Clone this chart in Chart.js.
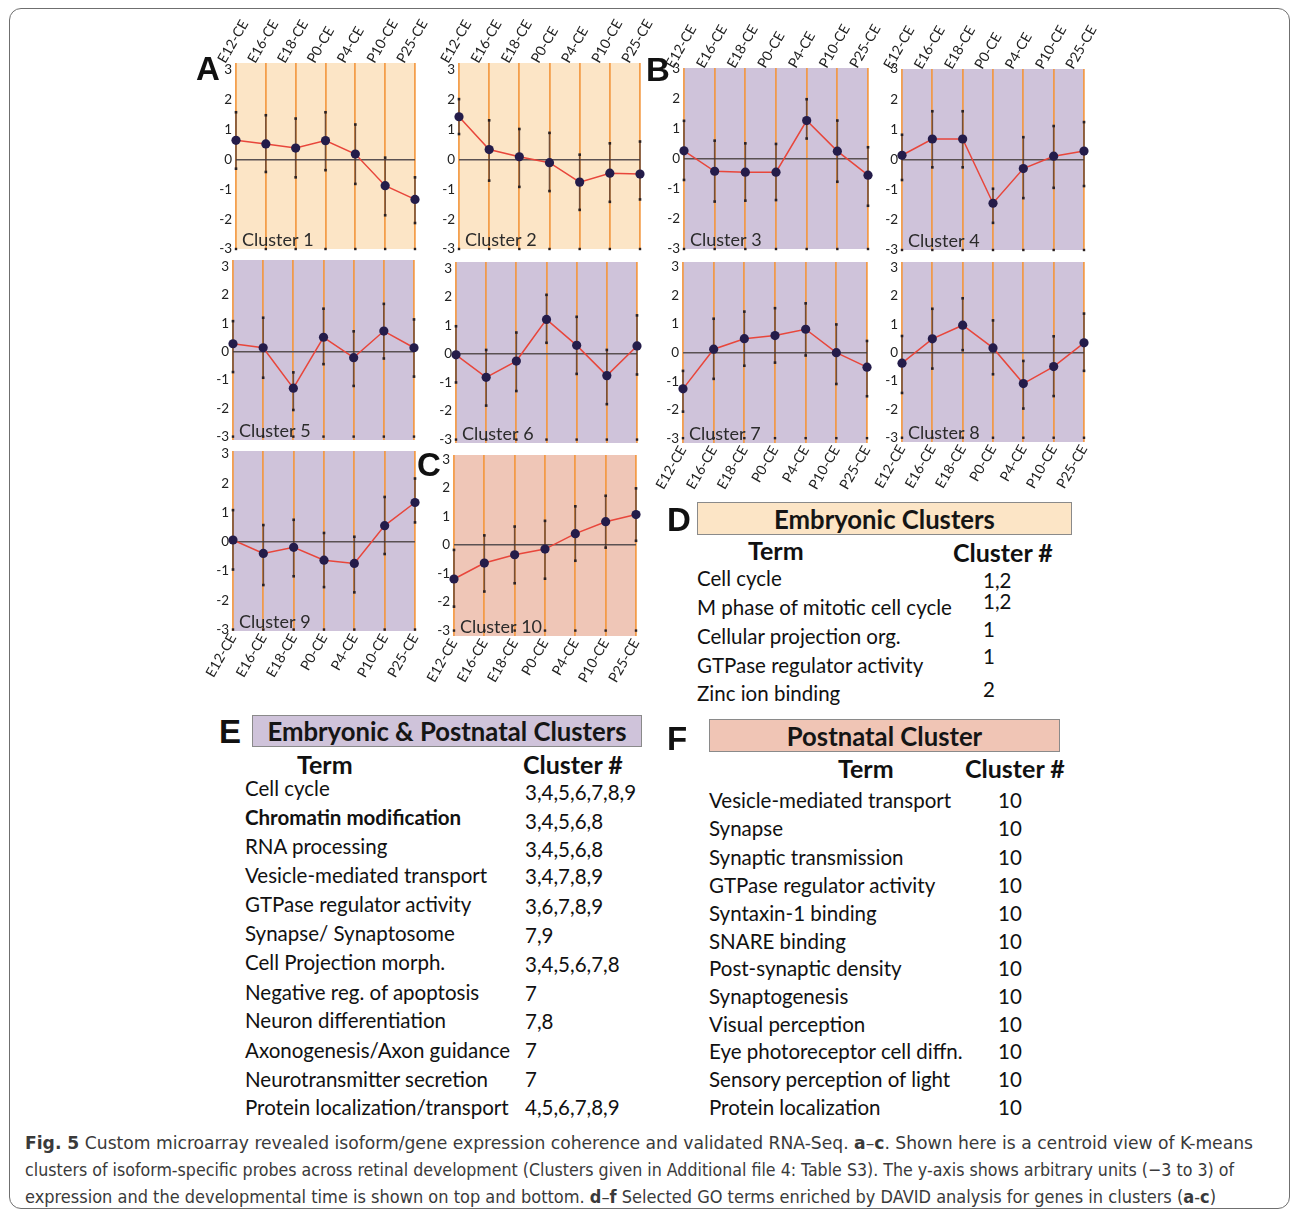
<!DOCTYPE html>
<html><head><meta charset="utf-8">
<script src="https://cdn.jsdelivr.net/npm/chart.js@4/dist/chart.umd.min.js"></script>
<style>
body{margin:0;background:#fff;}
#page{position:relative;width:1292px;height:1215px;overflow:hidden;font-family:Lato,'Open Sans',sans-serif;color:#111;}
.frame{position:absolute;left:9px;top:8px;width:1281px;height:1201px;border:1.3px solid #6f6f6f;border-radius:12px;box-sizing:border-box;}
canvas{position:absolute;}
.t{position:absolute;white-space:nowrap;line-height:1;transform:translateY(-50%);font-size:20.5px;}
.b{font-weight:bold;}
.h{font-weight:bold;font-size:25px;}
.letter{position:absolute;font-family:'Liberation Sans',Arial,sans-serif;font-weight:bold;font-size:33px;line-height:1;color:#111;transform:translateY(-50%);}
.box{position:absolute;border:1px solid #8a8a8a;box-sizing:border-box;display:flex;align-items:center;justify-content:center;font-weight:bold;font-size:25.7px;color:#151515;}
.cap{position:absolute;left:25px;white-space:nowrap;font-family:'Liberation Sans Narrow','DejaVu Sans Condensed',sans-serif;font-size:18px;line-height:1;color:#3a3a3a;transform-origin:left center;}
</style></head>
<body><div id="page"><div class="frame"></div></div>
<script>
// ---------------- DATA ----------------
const timepoints = ['E12-CE','E16-CE','E18-CE','P0-CE','P4-CE','P10-CE','P25-CE'];
const yTickValues = [-3,-2,-1,0,1,2,3];

const c1Mean  = [0.64,0.52,0.38,0.63,0.18,-0.88,-1.34];
const c1Upper = [1.58,1.48,1.37,1.58,1.17,0.06,-0.60];
const c1Lower = [-0.31,-0.42,-0.60,-0.36,-0.82,-1.87,-2.13];

const c2Mean  = [1.43,0.33,0.09,-0.11,-0.76,-0.46,-0.49];
const c2Upper = [2.02,1.31,1.02,0.89,0.16,0.54,0.60];
const c2Lower = [0.85,-0.71,-0.92,-1.06,-1.69,-1.42,-1.34];

const c3Mean  = [0.27,-0.41,-0.44,-0.44,1.28,0.26,-0.54];
const c3Upper = [1.27,0.61,0.52,0.50,1.99,1.28,0.39];
const c3Lower = [-0.70,-1.42,-1.39,-1.37,0.68,-0.76,-1.56];

const c4Mean  = [0.14,0.68,0.68,-1.45,-0.30,0.11,0.28];
const c4Upper = [0.82,1.60,1.60,-0.97,0.74,1.11,1.24];
const c4Lower = [-0.68,-0.26,-0.26,-2.10,-1.28,-0.94,-0.88];

const c5Mean  = [0.28,0.14,-1.29,0.51,-0.21,0.73,0.14];
const c5Upper = [1.08,1.20,-0.73,1.52,0.72,1.69,1.14];
const c5Lower = [-0.72,-0.92,-2.06,-0.44,-1.21,-0.24,-0.88];

const c6Mean  = [-0.03,-0.82,-0.25,1.21,0.30,-0.76,0.28];
const c6Upper = [0.97,0.14,0.75,2.07,1.30,0.14,1.35];
const c6Lower = [-1.00,-1.81,-1.30,0.39,-0.70,-1.76,-0.72];

const c7Mean  = [-1.27,0.12,0.49,0.60,0.82,0.00,-0.51];
const c7Upper = [-0.64,1.19,1.44,1.56,1.73,0.99,0.41];
const c7Lower = [-2.07,-0.92,-0.46,-0.35,-0.10,-1.10,-1.53];

const c8Mean  = [-0.37,0.49,0.97,0.17,-1.09,-0.49,0.35];
const c8Upper = [0.59,1.55,1.92,1.14,-0.29,0.58,1.38];
const c8Lower = [-1.42,-0.56,0.09,-0.76,-1.97,-1.53,-0.64];

const c9Mean  = [0.06,-0.40,-0.19,-0.63,-0.74,0.55,1.34];
const c9Upper = [1.08,0.57,0.75,0.30,0.17,1.53,2.16];
const c9Lower = [-0.95,-1.48,-1.18,-1.55,-1.73,-0.42,0.66];

const c10Mean  = [-1.19,-0.63,-0.34,-0.14,0.40,0.82,1.07];
const c10Upper = [-0.17,0.34,0.65,0.85,1.36,1.73,1.99];
const c10Lower = [-2.16,-1.63,-1.34,-1.18,-0.55,-0.09,0.15];

const embTerms = ['Cell cycle','M phase of mitotic cell cycle','Cellular projection org.','GTPase regulator activity','Zinc ion binding'];
const embClusters = ['1,2','1,2','1','1','2'];

const bothTerms = ['Cell cycle','Chromatin modification','RNA processing','Vesicle-mediated transport','GTPase regulator activity','Synapse/ Synaptosome','Cell Projection morph.','Negative reg. of apoptosis','Neuron differentiation','Axonogenesis/Axon guidance','Neurotransmitter secretion','Protein localization/transport'];
const bothClusters = ['3,4,5,6,7,8,9','3,4,5,6,8','3,4,5,6,8','3,4,7,8,9','3,6,7,8,9','7,9','3,4,5,6,7,8','7','7,8','7','7','4,5,6,7,8,9'];

const postTerms = ['Vesicle-mediated transport','Synapse','Synaptic transmission','GTPase regulator activity','Syntaxin-1 binding','SNARE binding','Post-synaptic density','Synaptogenesis','Visual perception','Eye photoreceptor cell diffn.','Sensory perception of light','Protein localization'];
const postClusters = ['10','10','10','10','10','10','10','10','10','10','10','10'];

// ---------------- LAYOUT / STYLE ----------------
const PEACH = '#FCE5C6', PURPLE = '#CFC3DA', SALMON = '#EFC6B7';
const panels = [
  {name:'Cluster 1', mean:c1Mean, upper:c1Upper, lower:c1Lower, bg:PEACH, l:236,t:63,r:415,b:249, min:-3, max:3.23, axis:'top'},
  {name:'Cluster 2', mean:c2Mean, upper:c2Upper, lower:c2Lower, bg:PEACH, l:459,t:63,r:640,b:249, min:-3, max:3.23, axis:'top'},
  {name:'Cluster 3', mean:c3Mean, upper:c3Upper, lower:c3Lower, bg:PURPLE, l:684,t:68,r:868,b:249, min:-3, max:3.03, axis:'top'},
  {name:'Cluster 4', mean:c4Mean, upper:c4Upper, lower:c4Lower, bg:PURPLE, l:902,t:69,r:1084,b:250, min:-3, max:3.0, axis:'top'},
  {name:'Cluster 5', mean:c5Mean, upper:c5Upper, lower:c5Lower, bg:PURPLE, l:233,t:260,r:414,b:440, min:-3.12, max:3.24, axis:'none'},
  {name:'Cluster 6', mean:c6Mean, upper:c6Upper, lower:c6Lower, bg:PURPLE, l:456,t:262,r:637,b:443, min:-3.12, max:3.22, axis:'none'},
  {name:'Cluster 7', mean:c7Mean, upper:c7Upper, lower:c7Lower, bg:PURPLE, l:683,t:262,r:867,b:443, min:-3.17, max:3.18, axis:'bottom'},
  {name:'Cluster 8', mean:c8Mean, upper:c8Upper, lower:c8Lower, bg:PURPLE, l:902,t:262,r:1084,b:442, min:-3.15, max:3.2, axis:'bottom'},
  {name:'Cluster 9', mean:c9Mean, upper:c9Upper, lower:c9Lower, bg:PURPLE, l:233,t:451,r:415,b:631, min:-3.05, max:3.1, axis:'bottom'},
  {name:'Cluster 10', mean:c10Mean, upper:c10Upper, lower:c10Lower, bg:SALMON, l:454,t:455,r:636,b:636, min:-3.19, max:3.16, axis:'bottom'}
];

const page = document.getElementById('page');
Chart.defaults.font.family = "Lato, 'Open Sans', sans-serif";
Chart.defaults.color = '#222';

function makePanel(p){
  const yW = 26, padL = 4, padR = 40, padT = 4, padB = 4, axH = 52;
  const topH = p.axis === 'top' ? axH : 0;
  const botH = p.axis === 'bottom' ? axH : 0;
  const w = p.r - p.l, h = p.b - p.t;
  const cv = document.createElement('canvas');
  const cw = padL + yW + w + padR, ch = padT + topH + h + botH + padB;
  cv.width = cw; cv.height = ch;
  cv.style.left = (p.l - yW - padL) + 'px';
  cv.style.top = (p.t - topH - padT) + 'px';
  cv.style.width = cw + 'px'; cv.style.height = ch + 'px';
  page.appendChild(cv);

  const panelPlugin = {
    id: 'panel',
    beforeDraw(chart){
      const a = chart.chartArea, c = chart.ctx;
      c.save(); c.fillStyle = p.bg; c.fillRect(a.left, a.top, a.right - a.left, a.bottom - a.top); c.restore();
    },
    beforeDatasetsDraw(chart){
      const c = chart.ctx, xs = chart.scales.x, ys = chart.scales.y;
      c.save();
      c.strokeStyle = 'rgba(70,48,45,0.72)'; c.lineWidth = 1.6;
      c.fillStyle = '#2a2020';
      for (let i = 0; i < p.mean.length; i++){
        const x = xs.getPixelForValue(i);
        const y1 = ys.getPixelForValue(p.upper[i]);
        const y2 = ys.getPixelForValue(p.lower[i]);
        c.beginPath(); c.moveTo(x, y1); c.lineTo(x, y2); c.stroke();
        c.fillRect(x - 1.3, y1 - 1.3, 2.6, 2.6);
        c.fillRect(x - 1.3, y2 - 1.3, 2.6, 2.6);
        const yb = ys.getPixelForValue(-3);
        c.fillRect(x - 1.2, yb - 1.2, 2.4, 2.4);
      }
      c.restore();
    },
    afterDraw(chart){
      const a = chart.chartArea, c = chart.ctx;
      c.save();
      c.font = "18px Lato, 'Open Sans', sans-serif";
      c.fillStyle = '#2b2b2b'; c.textBaseline = 'alphabetic'; c.textAlign = 'left';
      c.fillText(p.name, a.left + 6, a.bottom - 3);
      c.restore();
    }
  };

  new Chart(cv, {
    type: 'line',
    data: {
      labels: timepoints,
      datasets: [{
        data: p.mean,
        borderColor: '#E8463B', borderWidth: 1.5, tension: 0,
        pointRadius: 4.6, pointBackgroundColor: '#241C4A', pointBorderColor: '#241C4A', pointBorderWidth: 0,
        clip: false
      }]
    },
    options: {
      responsive: false, animation: false, devicePixelRatio: 1,
      layout: {padding: {left: padL, right: padR, top: padT, bottom: padB}, autoPadding: false},
      plugins: {legend: {display: false}, tooltip: {enabled: false}},
      scales: {
        x: {
          position: p.axis === 'bottom' ? 'bottom' : 'top',
          offset: false,
          grid: {color: 'rgba(243,150,60,0.9)', lineWidth: 1.8, drawTicks: false, z: -1},
          border: {display: false},
          ticks: {display: p.axis !== 'none', autoSkip: false, minRotation: 60, maxRotation: 60,
                  padding: p.axis === 'top' ? -3 : 0, font: {size: 14}, color: '#222'},
          afterFit(s){ s.height = (p.axis === 'none') ? 0 : axH; s.paddingLeft = 0; s.paddingRight = 0; }
        },
        y: {
          min: p.min, max: p.max,
          afterBuildTicks(s){ s.ticks = yTickValues.map(v => ({value: v})); },
          grid: {drawTicks: false, z: 0, lineWidth: 1.6, color: ctx => (ctx.tick && ctx.tick.value === 0) ? '#5a5152' : 'rgba(0,0,0,0)'},
          border: {display: false},
          ticks: {padding: 4, font: {size: 13.5}, color: '#222'},
          afterFit(s){ s.width = yW; s.paddingTop = 0; s.paddingBottom = 0; }
        }
      }
    },
    plugins: [panelPlugin]
  });
}
panels.forEach(makePanel);

// ---------------- TEXT ----------------
function txt(x, y, s, cls){
  const d = document.createElement('div');
  d.className = 't' + (cls ? ' ' + cls : '');
  d.style.left = x + 'px'; d.style.top = y + 'px';
  d.textContent = s; page.appendChild(d); return d;
}
function letter(x, y, s){
  const d = document.createElement('div'); d.className = 'letter';
  d.style.left = x + 'px'; d.style.top = y + 'px'; d.textContent = s; page.appendChild(d);
}
function box(x, y, w, h, bg, s){
  const d = document.createElement('div'); d.className = 'box';
  Object.assign(d.style, {left: x + 'px', top: y + 'px', width: w + 'px', height: h + 'px', background: bg});
  d.textContent = s; page.appendChild(d);
}
letter(196, 68, 'A'); letter(646, 69, 'B'); letter(417, 464, 'C');
letter(667, 519, 'D'); letter(219, 731, 'E'); letter(667, 738, 'F');

// D
box(697, 502, 375, 33, '#FCE5C6', 'Embryonic Clusters');
txt(748, 550, 'Term', 'h'); txt(953, 552, 'Cluster #', 'h');
const embTermY = [578, 607, 636, 665, 693];
const embValY = [580, 601, 629, 656, 689];
embTerms.forEach((s, i) => txt(697, embTermY[i], s));
embClusters.forEach((s, i) => txt(983, embValY[i], s));

// E
box(252, 715, 390, 32, '#CFC3DA', 'Embryonic & Postnatal Clusters');
txt(297, 764, 'Term', 'h'); txt(523, 764, 'Cluster #', 'h');
const bothTermY = [788, 817, 846, 875, 904, 933, 962, 992, 1020, 1050, 1079, 1107];
const bothValY = [792, 821, 849, 876, 906, 935, 964, 993, 1021, 1050, 1079, 1107];
bothTerms.forEach((s, i) => txt(245, bothTermY[i], s, i === 1 ? 'b' : ''));
bothClusters.forEach((s, i) => txt(525, bothValY[i], s));

// F
box(709, 719, 351, 33, '#F0C5B5', 'Postnatal Cluster');
txt(838, 768, 'Term', 'h'); txt(965, 768, 'Cluster #', 'h');
const postY = [800, 828, 857, 885, 913, 941, 968, 996, 1024, 1051, 1079, 1107];
postTerms.forEach((s, i) => txt(709, postY[i], s));
postClusters.forEach((s, i) => txt(998, postY[i], s));

// caption
const capLines = [
  {y: 1143, w: 1228, html: '<b>Fig. 5</b> Custom microarray revealed isoform/gene expression coherence and validated RNA-Seq. <b>a</b>–<b>c</b>. Shown here is a centroid view of K-means'},
  {y: 1170, w: 1209, html: 'clusters of isoform-specific probes across retinal development (Clusters given in Additional file 4: Table S3). The y-axis shows arbitrary units (−3 to 3) of'},
  {y: 1197, w: 1191, html: 'expression and the developmental time is shown on top and bottom. <b>d</b>–<b>f</b> Selected GO terms enriched by DAVID analysis for genes in clusters (<b>a</b>-<b>c</b>)'}
];
capLines.forEach(c => {
  const d = document.createElement('div'); d.className = 'cap';
  d.innerHTML = c.html; page.appendChild(d);
  const nat = d.getBoundingClientRect().width, hh = d.getBoundingClientRect().height;
  d.style.top = (c.y - hh / 2) + 'px';
  d.style.transform = 'scaleX(' + (c.w / nat).toFixed(4) + ')';
});
</script></body></html>
